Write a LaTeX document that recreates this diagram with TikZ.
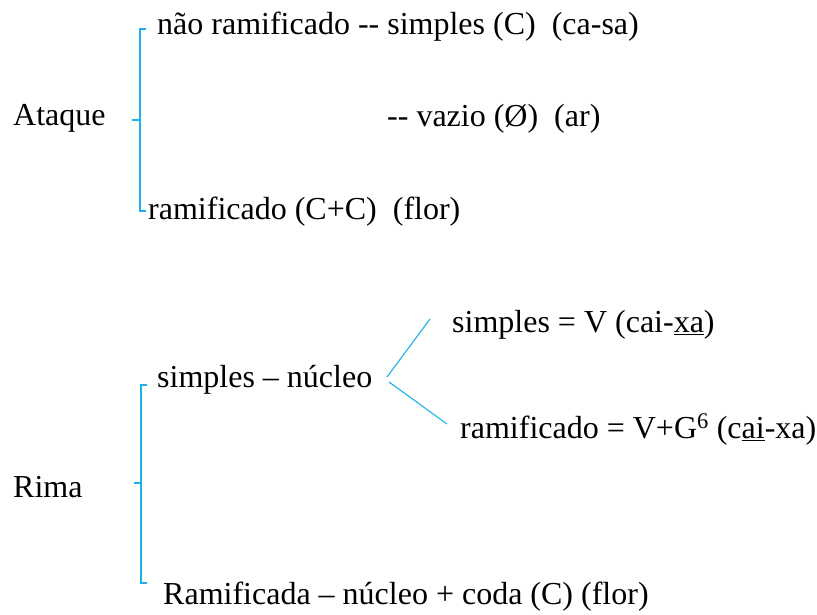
\documentclass[tikz,border=0pt]{standalone}
\usepackage{fontspec}
\setmainfont{Liberation Serif}[Ligatures=TeXOff]
\definecolor{brk}{RGB}{30,176,232}
\begin{document}
\begin{tikzpicture}[x=1pt,y=-1pt,
  lbl/.style={anchor=base west,inner sep=0pt,font=\fontsize{32}{37}\selectfont},
  brkline/.style={draw=brk,line width=1.1pt}]
\useasboundingbox (0,0) rectangle (817,615);
% Ataque
\node[lbl] (ataque) at (13,126) {Ataque};
\node[lbl] (nr) at (157,35) {não ramificado -- simples (C)\ \ (ca-sa)};
\node[lbl] (vz) at (387,127) {-- vazio (Ø)\ \ (ar)};
\node[lbl] (ram) at (148,219) {ramificado (C+C)\ \ (flor)};
\coordinate (a1) at (146,29);
\coordinate (a2) at (140,29);
\coordinate (a3) at (140,211);
\coordinate (a4) at (146,211);
\coordinate (am) at (140,120);
\coordinate (am0) at (132,120);
\draw[brkline] (a1) -- (a2) -- (a3) -- (a4);
\draw[brkline] (am0) -- (am);
% Rima
\node[lbl] (rima) at (13,497) {Rima};
\node[lbl] (sn) at (157,387) {simples – núcleo};
\node[lbl] (sv) at (452,332) {simples = V (cai-\underline{xa})};
\node[lbl] (rv) at (460,438) {ramificado = V+G\textsuperscript{6} (c\underline{ai}-xa)};
\node[lbl] (rn) at (163,604) {Ramificada – núcleo + coda (C) (flor)};
\coordinate (r1) at (147,385);
\coordinate (r2) at (141,385);
\coordinate (r3) at (141,583);
\coordinate (r4) at (147,583);
\coordinate (rm) at (141,483);
\coordinate (rm0) at (134,483);
\draw[brkline] (r1) -- (r2) -- (r3) -- (r4);
\draw[brkline] (rm0) -- (rm);
\coordinate (v0) at (387,377);
\coordinate (v1) at (430,319);
\coordinate (w0) at (389,382);
\coordinate (w1) at (447,424);
\draw[brkline] (v0) -- (v1);
\draw[brkline] (w0) -- (w1);
\end{tikzpicture}
\end{document}
